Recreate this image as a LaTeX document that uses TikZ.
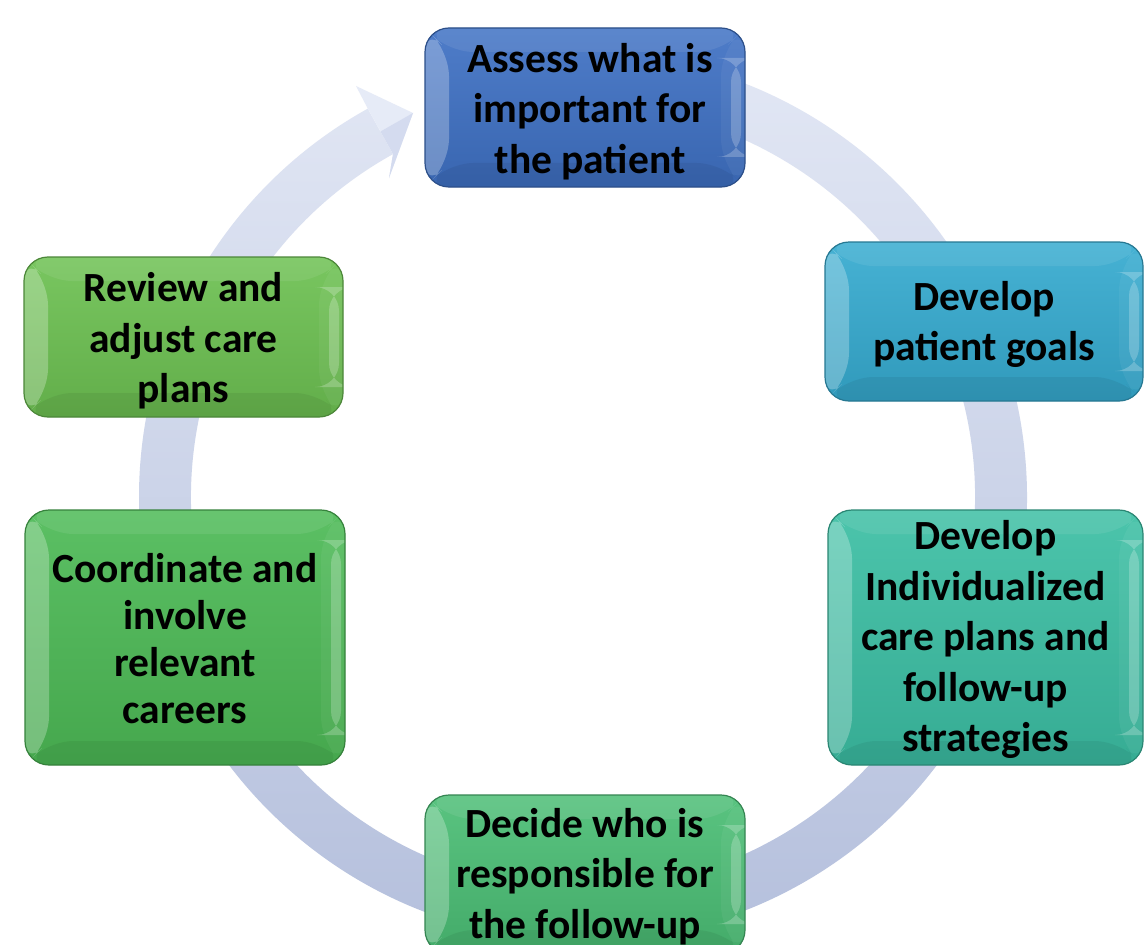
\documentclass[tikz,border=0pt]{standalone}
\usepackage{fontspec}
\setmainfont{Carlito}
\usetikzlibrary{calc}
\definecolor{ringtop}{HTML}{E3E8F5}
\definecolor{ringbot}{HTML}{B4BFDC}
\definecolor{headhi}{HTML}{E6EBF7}
\definecolor{headlo}{HTML}{D4DBEF}
\definecolor{cassess}{HTML}{3F71C4}
\definecolor{cgoals}{HTML}{36ABD0}
\definecolor{cindiv}{HTML}{3CBFA4}
\definecolor{cdecide}{HTML}{4BBE75}
\definecolor{ccoord}{HTML}{4DBA56}
\definecolor{creview}{HTML}{6DC152}
\tikzset{
  bevel/.style={path picture={
    \path (path picture bounding box.north west) coordinate (bnw)
          (path picture bounding box.north east) coordinate (bne)
          (path picture bounding box.south west) coordinate (bsw)
          (path picture bounding box.south east) coordinate (bse);
    \fill[white,opacity=.26] (bnw) -- ($(bnw)+(24,-24)$) -- ($(bsw)+(24,24)$) -- (bsw) -- cycle;
    \fill[white,opacity=.08] (bnw) -- (bne) -- ($(bne)+(-24,-24)$) -- ($(bnw)+(24,-24)$) -- cycle;
    \fill[black,opacity=.06] (bsw) -- (bse) -- ($(bse)+(-24,24)$) -- ($(bsw)+(24,24)$) -- cycle;
    \fill[white,opacity=.05] (bne) -- ($(bne)+(-24,-24)$) -- ($(bse)+(-24,24)$) -- (bse) -- cycle;
    \fill[white,opacity=.22] ($(bne)+(-14,-30)$) rectangle ($(bse)+(-4,30)$);
  }},
  box/.style={rectangle, rounded corners=24pt, draw=#1!70!black, line width=1.2pt,
    top color=#1!92!white, bottom color=#1!90!black, bevel, inner sep=0pt},
  lbl/.style={font=\fontsize{41.5}{50.5}\selectfont\bfseries, align=center,
    inner sep=0pt, text=black},
  ring/.style={top color=ringtop, bottom color=ringbot, draw=none}
}
\begin{document}
\begin{tikzpicture}[x=1pt,y=1pt]
\useasboundingbox (0,0) rectangle (1147,-944);
\clip (0,0) rectangle (1147,-944);
\fill[white] (0,0) rectangle (1147,-944);
\coordinate (c) at (583,-497);
% ring
\path[ring] ([shift={(95:444)}]c) arc[start angle=95, end angle=-241, radius=444]
   -- ([shift={(-241:392)}]c) arc[start angle=-241, end angle=95, radius=392] -- cycle;
% arrow head
\coordinate (hjo) at (368,-109);
\coordinate (hbt) at (356,-86);
\coordinate (htip) at (413,-113);
\coordinate (hbb) at (389,-178);
\coordinate (hji) at (393,-154);
\fill[headhi] (hjo) -- (hbt) -- (htip) -- (hbb) -- (hji) -- cycle;
\fill[headlo] ($(hjo)!0.5!(hji)$) -- (htip) -- (hbb) -- (hji) -- cycle;
% boxes
\node[box=cassess, minimum width=320pt, minimum height=159pt] (assess) at (585,-107.5) {};
\node[box=cgoals, minimum width=318pt, minimum height=159pt] (goals) at (984,-321.5) {};
\node[box=cindiv, minimum width=315pt, minimum height=255pt] (indiv) at (985.5,-637.5) {};
\node[box=cdecide, minimum width=320pt, minimum height=159pt] (decide) at (585,-874.5) {};
\node[box=ccoord, minimum width=320pt, minimum height=255pt] (coord) at (185,-637.5) {};
\node[box=creview, minimum width=319pt, minimum height=160pt] (review) at (183.5,-337) {};
% labels
\node[lbl] (assess-t) at ([xshift=5pt,yshift=-4pt]assess.center)
  {Assess what is\\important for\\the patient};
\node[lbl] (goals-t) at ([yshift=-3pt]goals.center)
  {Develop\\patient goals};
\node[lbl] (indiv-t) at ([yshift=-2pt]indiv.center)
  {Develop\\Individualized\\care plans and\\follow-up\\strategies};
\node[lbl] (decide-t) at ([yshift=-2pt]decide.center)
  {Decide who is\\responsible for\\the follow-up};
\node[lbl, font=\fontsize{41.5}{47}\selectfont\bfseries] (coord-t) at ([yshift=-1pt]coord.center)
  {Coordinate and\\involve\\relevant\\careers};
\node[lbl] (review-t) at ([yshift=-4pt]review.center)
  {Review and\\adjust care\\plans};
\end{tikzpicture}
\end{document}
